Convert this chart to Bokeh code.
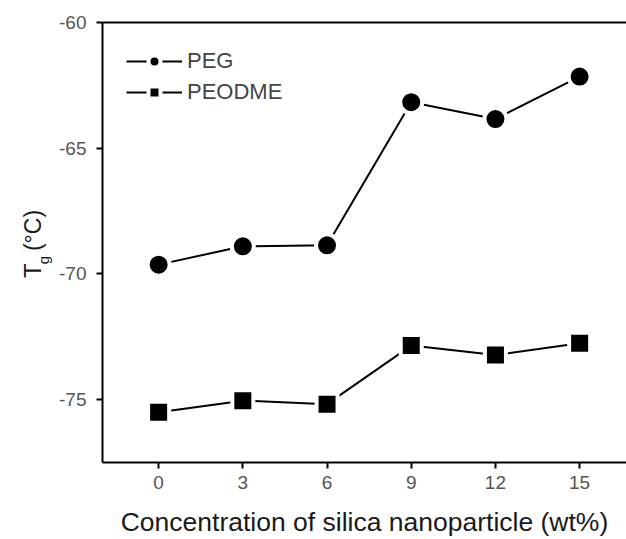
import math
from bokeh.plotting import figure
from bokeh.layouts import row
from bokeh.core.properties import value
from bokeh.models import (Range1d, FixedTicker, LinearAxis, Legend,
                          LegendItem, ColumnDataSource, NumeralTickFormatter)
from bokeh.embed import file_html
from bokeh.resources import INLINE

# ---- data ----
concentration = [0, 3, 6, 9, 12, 15]
tg_peg = [-69.63, -68.90, -68.86, -63.17, -63.84, -62.15]
tg_peodme = [-75.50, -75.04, -75.18, -72.85, -73.22, -72.76]
x_ticks = [0, 3, 6, 9, 12, 15]
y_ticks = [-75, -70, -65, -60]
series_names = ["PEG", "PEODME"]
x_title = "Concentration of silica nanoparticle (wt%)"
y_title_parts = ["T", "g", "(°C)"]

TITLE_W = 56
H = 539
p = figure(width=626 - TITLE_W, height=H, output_backend="svg",
           toolbar_location=None,
           x_range=Range1d(-2, 16.67), y_range=Range1d(-77.5, -60),
           min_border_left=102 - TITLE_W, min_border_right=0,
           min_border_top=22, min_border_bottom=76)
p.outline_line_color = None
p.xgrid.visible = False
p.ygrid.visible = False
p.background_fill_color = "white"
p.border_fill_color = "white"

tick_font = "Liberation Sans Narrow, Liberation Sans, Arial"
for ax in (p.xaxis[0], p.yaxis[0]):
    ax.axis_line_width = 2
    ax.axis_line_color = "black"
    ax.major_tick_line_width = 2
    ax.major_tick_line_color = "black"
    ax.major_tick_in = 0
    ax.major_tick_out = 6
    ax.minor_tick_line_color = None
    ax.major_label_text_font = tick_font
    ax.major_label_text_font_size = "19px"
    ax.major_label_text_color = "#555555"

p.xaxis[0].ticker = FixedTicker(ticks=x_ticks)
p.yaxis[0].ticker = FixedTicker(ticks=y_ticks)
p.yaxis[0].formatter = NumeralTickFormatter(format="0")
p.xaxis[0].major_label_standoff = 7
p.yaxis[0].major_label_standoff = 10
p.xaxis[0].axis_label = x_title
p.xaxis[0].axis_label_text_font = "Liberation Sans, Arial"
p.xaxis[0].axis_label_text_font_size = "26.5px"
p.xaxis[0].axis_label_text_font_style = "normal"
p.xaxis[0].axis_label_text_color = "#1a1a1a"
p.xaxis[0].axis_label_standoff = 15

top = LinearAxis(ticker=FixedTicker(ticks=[]), axis_line_width=2,
                 axis_line_color="black", major_tick_line_color=None,
                 minor_tick_line_color=None)
p.add_layout(top, "above")

# ---- series ----
src_peg = ColumnDataSource(dict(x=concentration, y=tg_peg))
src_peo = ColumnDataSource(dict(x=concentration, y=tg_peodme))
l1 = p.line("x", "y", source=src_peg, line_color="black", line_width=2)
m1 = p.scatter("x", "y", source=src_peg, marker="circle", size=22,
               fill_color="black", line_color="white", line_width=4)
l2 = p.line("x", "y", source=src_peo, line_color="black", line_width=2)
m2 = p.scatter("x", "y", source=src_peo, marker="square", size=21,
               fill_color="black", line_color="white", line_width=4)

# ---- legend (legend markers are sized from the glyph box) ----
legend = Legend(items=[LegendItem(label=series_names[0], renderers=[l1, m1]),
                       LegendItem(label=series_names[1], renderers=[l2, m2])],
                location=(24, 355), glyph_width=56, glyph_height=30,
                spacing=1, padding=0, margin=0, label_standoff=5,
                border_line_color=None, background_fill_alpha=0,
                label_text_font="Liberation Sans, Arial",
                label_text_font_size="22px", label_text_color="#444444",
                label_text_baseline="middle")
p.add_layout(legend, "center")

# ---- y axis title panel: T_g (°C), rotated (pixel space) ----
t = figure(width=TITLE_W, height=H, output_backend="svg",
           toolbar_location=None, x_axis_type=None, y_axis_type=None,
           x_range=Range1d(0, TITLE_W), y_range=Range1d(0, H),
           min_border=0, min_border_left=0, min_border_right=0,
           min_border_top=0, min_border_bottom=0)
t.outline_line_color = None
t.xgrid.visible = False
t.ygrid.visible = False
t.background_fill_color = "white"
t.border_fill_color = "white"
ang = math.pi / 2
title_font = value("Liberation Sans")
t.text(x=[32], y=[H - 313], text=[y_title_parts[0]], angle=ang,
       text_font=title_font, text_font_size="24px", text_color="#1a1a1a",
       text_align="left", text_baseline="alphabetic")
t.text(x=[43], y=[H - 296], text=[y_title_parts[1]], angle=ang,
       text_font=title_font, text_font_size="15px", text_color="#1a1a1a",
       text_align="left", text_baseline="alphabetic")
t.text(x=[32], y=[H - 280], text=[y_title_parts[2]], angle=ang,
       text_font=title_font, text_font_size="23px", text_color="#1a1a1a",
       text_align="left", text_baseline="alphabetic")

layout = row(t, p, spacing=0)
open("out.html", "w").write(file_html(layout, INLINE))
